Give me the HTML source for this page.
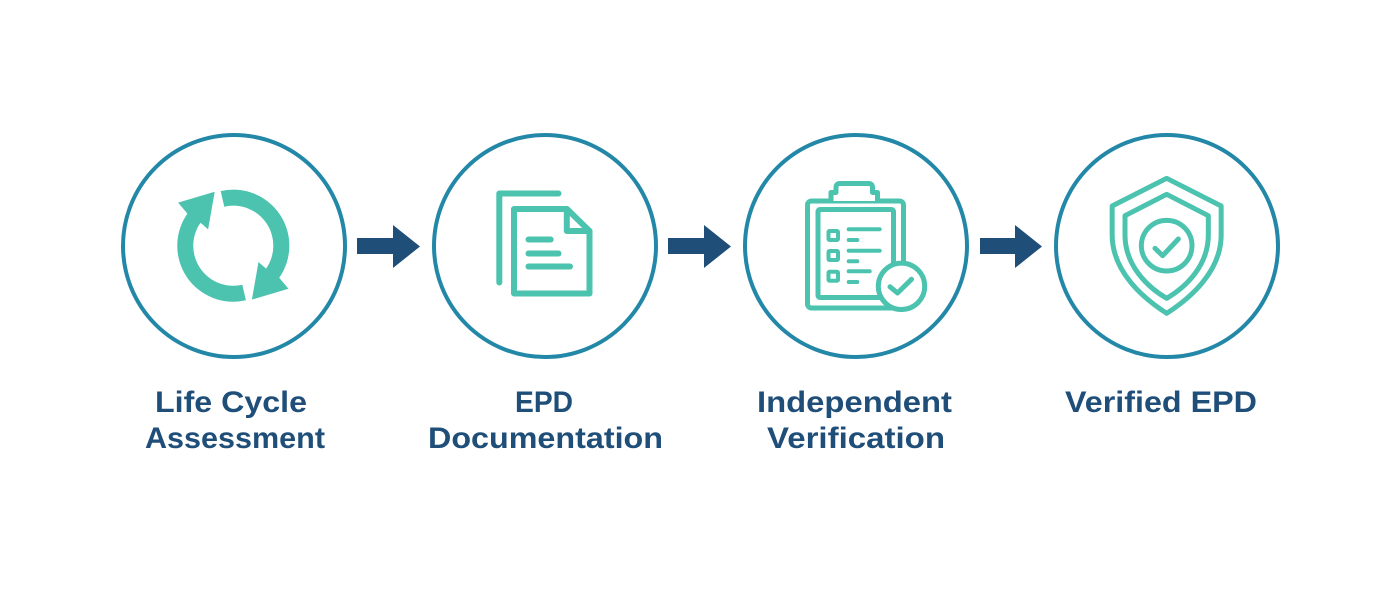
<!DOCTYPE html>
<html>
<head>
<meta charset="utf-8">
<style>
  html, body { margin: 0; padding: 0; background: #ffffff; }
  svg { display: block; }
  .lbl { font-family: "Liberation Sans", "DejaVu Sans", sans-serif; font-weight: bold; font-size: 30px; fill: #1f4e79; }
</style>
</head>
<body>
<svg width="1400" height="589" viewBox="0 0 1400 589" xmlns="http://www.w3.org/2000/svg">
  <rect width="1400" height="589" fill="#ffffff"/>

  <!-- Big circles -->
  <g fill="none" stroke="#2388a8" stroke-width="4">
    <circle cx="234" cy="246" r="111"/>
    <circle cx="545" cy="246" r="111"/>
    <circle cx="856" cy="246" r="111"/>
    <circle cx="1167" cy="246" r="111"/>
  </g>

  <!-- Arrows -->
  <g fill="#1f4e79">
    <polygon points="357,238 393,238 393,225 420,246.5 393,268 393,254 357,254"/>
    <polygon points="668,238 704,238 704,225 731,246.5 704,268 704,254 668,254"/>
    <polygon points="980,238 1015,238 1015,225 1042,246.5 1015,268 1015,254 980,254"/>
  </g>

  <!-- Icon 1: cycle arrows -->
  <g transform="translate(233.3,245.7)" fill="#4cc3ae">
    <path id="seg" d="M-12.6,-54.6 A56,56 0 0 1 45.9,32.1 L55.2,43.1 L18.6,53.9 L25.2,16.3 L32.8,22.9 A40,40 0 0 0 -9.0,-39.0 Z"/>
    <path transform="rotate(180)" d="M-12.6,-54.6 A56,56 0 0 1 45.9,32.1 L55.2,43.1 L18.6,53.9 L25.2,16.3 L32.8,22.9 A40,40 0 0 0 -9.0,-39.0 Z"/>
  </g>

  <!-- Icon 2: documents -->
  <g fill="none" stroke="#4cc3ae" stroke-width="6" stroke-linecap="round" stroke-linejoin="round">
    <path d="M499.3,282.5 V193.5 H558.5"/>
    <path d="M514,209 H567 L589.5,231 V293.5 H514 Z"/>
    <path d="M566.8,209 V231 H589.5"/>
    <path d="M528.5,239.5 H550.7"/>
    <path d="M528.5,253.5 H558.5"/>
    <path d="M528.5,266.5 H570"/>
  </g>

  <!-- Icon 3: clipboard -->
  <g fill="none" stroke="#4cc3ae" stroke-linecap="round" stroke-linejoin="round">
    <rect x="807.5" y="201" width="96" height="107" rx="4" stroke-width="5"/>
    <rect x="818" y="209.5" width="75.5" height="88" rx="2" stroke-width="5"/>
    <path d="M831,201 V192.5 H836 V187.5 Q836,183.5 840,183.5 H868.5 Q872.5,183.5 872.5,187.5 V192.5 H877.5 V201" stroke-width="5" fill="#ffffff"/>
    <g stroke-width="4">
      <rect x="828.5" y="231" width="9.5" height="9" rx="1"/>
      <rect x="828.5" y="251" width="9.5" height="9" rx="1"/>
      <rect x="828.5" y="271.7" width="9.5" height="9" rx="1"/>
      <path d="M848.7,229.2 H879.7"/>
      <path d="M848.7,240 H857.3"/>
      <path d="M848.7,250.8 H879.7"/>
      <path d="M848.7,261.3 H857.3"/>
      <path d="M848.7,271.3 H869.7"/>
      <path d="M848.7,282 H857.3"/>
    </g>
    <circle cx="901.5" cy="286.3" r="23.2" stroke-width="5" fill="#ffffff"/>
    <path d="M890,286.8 L897.5,293 L911.5,279.3" stroke-width="5"/>
  </g>

  <!-- Icon 4: shield -->
  <g transform="translate(1040,125) scale(0.33333)" fill="none" stroke="#4cc3ae" stroke-width="15" stroke-linecap="round" stroke-linejoin="round">
    <path d="M380,160 L543.5,243 V330 C543.5,440 450,520 380,565 C310,520 216.5,440 216.5,330 V243 Z"/>
    <path d="M380,208 L505,272 V330 C505,420 440,485 380,520 C320,485 255,420 255,330 V272 Z"/>
    <circle cx="380" cy="362" r="76"/>
    <path d="M345,370 L368,392 L415,342"/>
  </g>

  <!-- Labels -->
  <text class="lbl" x="231" y="412" text-anchor="middle" textLength="152" lengthAdjust="spacingAndGlyphs">Life Cycle</text>
  <text class="lbl" x="235" y="448" text-anchor="middle" textLength="180" lengthAdjust="spacingAndGlyphs">Assessment</text>

  <text class="lbl" x="544" y="412" text-anchor="middle" textLength="58" lengthAdjust="spacingAndGlyphs">EPD</text>
  <text class="lbl" x="545.5" y="448" text-anchor="middle" textLength="235" lengthAdjust="spacingAndGlyphs">Documentation</text>

  <text class="lbl" x="854.5" y="412" text-anchor="middle" textLength="195" lengthAdjust="spacingAndGlyphs">Independent</text>
  <text class="lbl" x="856" y="448" text-anchor="middle" textLength="178" lengthAdjust="spacingAndGlyphs">Verification</text>

  <text class="lbl" x="1161" y="412" text-anchor="middle" textLength="192" lengthAdjust="spacingAndGlyphs">Verified EPD</text>
</svg>
</body>
</html>
